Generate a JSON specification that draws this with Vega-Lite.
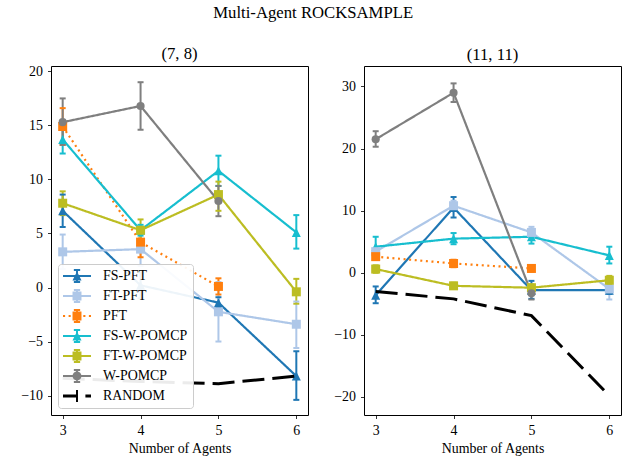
{
  "$schema": "https://vega.github.io/schema/vega-lite/v6.json",
  "padding": {"left": 20, "top": 4, "right": 5, "bottom": 5},
  "title": {"text": "Multi-Agent ROCKSAMPLE", "fontSize": 16.7, "offset": 24, "anchor": "start", "dx": 193},
  "spacing": 24,
  "datasets": {
    "left": [
      {"series": "FS-PFT", "n": 3, "v": 7.1, "lo": 5.6, "hi": 8.6},
      {"series": "FS-PFT", "n": 4, "v": 0.2, "lo": -1.0, "hi": 1.4},
      {"series": "FS-PFT", "n": 5, "v": -1.4, "lo": -1.9, "hi": -0.9},
      {"series": "FS-PFT", "n": 6, "v": -8.2, "lo": -10.4, "hi": -5.9},
      {"series": "FT-PFT", "n": 3, "v": 3.3, "lo": 1.7, "hi": 4.9},
      {"series": "FT-PFT", "n": 4, "v": 3.55, "lo": 2.0, "hi": 5.1},
      {"series": "FT-PFT", "n": 5, "v": -2.25, "lo": -5.0, "hi": 0.5},
      {"series": "FT-PFT", "n": 6, "v": -3.4, "lo": -5.6, "hi": -1.3},
      {"series": "PFT", "n": 3, "v": 14.9, "lo": 13.2, "hi": 16.6},
      {"series": "PFT", "n": 4, "v": 4.2, "lo": 2.8, "hi": 5.6},
      {"series": "PFT", "n": 5, "v": 0.1, "lo": -0.65, "hi": 0.85},
      {"series": "FS-W-POMCP", "n": 3, "v": 13.7, "lo": 12.4, "hi": 15.0},
      {"series": "FS-W-POMCP", "n": 4, "v": 5.3, "lo": 4.8, "hi": 5.8},
      {"series": "FS-W-POMCP", "n": 5, "v": 10.8, "lo": 9.4, "hi": 12.2},
      {"series": "FS-W-POMCP", "n": 6, "v": 5.1, "lo": 3.6, "hi": 6.7},
      {"series": "FT-W-POMCP", "n": 3, "v": 7.8, "lo": 6.7, "hi": 8.9},
      {"series": "FT-W-POMCP", "n": 4, "v": 5.3, "lo": 4.3, "hi": 6.3},
      {"series": "FT-W-POMCP", "n": 5, "v": 8.6, "lo": 7.1, "hi": 9.8},
      {"series": "FT-W-POMCP", "n": 6, "v": -0.4, "lo": -1.5, "hi": 0.8},
      {"series": "W-POMCP", "n": 3, "v": 15.3, "lo": 13.2, "hi": 17.5},
      {"series": "W-POMCP", "n": 4, "v": 16.8, "lo": 14.6, "hi": 19.0},
      {"series": "W-POMCP", "n": 5, "v": 8.0, "lo": 6.6, "hi": 9.4},
      {"series": "RANDOM", "n": 3, "v": -8.4},
      {"series": "RANDOM", "n": 4, "v": -8.7},
      {"series": "RANDOM", "n": 5, "v": -8.9},
      {"series": "RANDOM", "n": 6, "v": -8.2}
    ],
    "right": [
      {"series": "FS-PFT", "n": 3, "v": -3.6, "lo": -4.9, "hi": -2.2},
      {"series": "FS-PFT", "n": 4, "v": 10.5, "lo": 8.9, "hi": 12.2},
      {"series": "FS-PFT", "n": 5, "v": -2.8, "lo": -4.2, "hi": -1.3},
      {"series": "FS-PFT", "n": 6, "v": -2.8, "lo": -3.4, "hi": -2.2},
      {"series": "FT-PFT", "n": 3, "v": 3.4, "lo": 2.8, "hi": 4.0},
      {"series": "FT-PFT", "n": 4, "v": 10.8, "lo": 10.0, "hi": 11.6},
      {"series": "FT-PFT", "n": 5, "v": 6.5, "lo": 5.6, "hi": 7.4},
      {"series": "FT-PFT", "n": 6, "v": -2.6, "lo": -4.3, "hi": -1.0},
      {"series": "PFT", "n": 3, "v": 2.6, "lo": 2.1, "hi": 3.1},
      {"series": "PFT", "n": 4, "v": 1.5, "lo": 0.9, "hi": 2.1},
      {"series": "PFT", "n": 5, "v": 0.7, "lo": 0.2, "hi": 1.2},
      {"series": "FS-W-POMCP", "n": 3, "v": 4.2, "lo": 2.6, "hi": 5.8},
      {"series": "FS-W-POMCP", "n": 4, "v": 5.5, "lo": 4.6, "hi": 6.4},
      {"series": "FS-W-POMCP", "n": 5, "v": 5.8, "lo": 4.7, "hi": 6.9},
      {"series": "FS-W-POMCP", "n": 6, "v": 2.8, "lo": 1.5, "hi": 4.2},
      {"series": "FT-W-POMCP", "n": 3, "v": 0.6, "lo": 0.0, "hi": 1.2},
      {"series": "FT-W-POMCP", "n": 4, "v": -2.1, "lo": -2.6, "hi": -1.6},
      {"series": "FT-W-POMCP", "n": 5, "v": -2.4, "lo": -2.9, "hi": -1.9},
      {"series": "FT-W-POMCP", "n": 6, "v": -1.2, "lo": -1.9, "hi": -0.5},
      {"series": "W-POMCP", "n": 3, "v": 21.5, "lo": 20.3, "hi": 22.8},
      {"series": "W-POMCP", "n": 4, "v": 29.0, "lo": 27.5, "hi": 30.5},
      {"series": "W-POMCP", "n": 5, "v": -3.3, "lo": -4.3, "hi": -2.3},
      {"series": "RANDOM", "n": 3, "v": -3.0},
      {"series": "RANDOM", "n": 4, "v": -4.2},
      {"series": "RANDOM", "n": 5, "v": -6.9},
      {"series": "RANDOM", "n": 6, "v": -19.8}
    ]
  },
  "resolve": {"scale": {"x": "independent", "y": "independent", "color": "independent", "shape": "independent", "strokeDash": "independent"}},
  "hconcat": [
    {
      "width": 257, "height": 349,
      "title": {"text": "(7, 8)", "fontSize": 16.7, "offset": 2},
      "data": {"name": "left"},
      "encoding": {
        "x": {"field": "n", "type": "quantitative", "scale": {"domain": [2.85, 6.15], "nice": false, "zero": false}, "axis": {"values": [3, 4, 5, 6], "format": "d", "title": "Number of Agents"}},
        "color": {"field": "series", "type": "nominal", "scale": {"domain": ["FS-PFT", "FT-PFT", "PFT", "FS-W-POMCP", "FT-W-POMCP", "W-POMCP", "RANDOM"], "range": ["#1f77b4", "#aec7e8", "#ff7f0e", "#17becf", "#bcbd22", "#7f7f7f", "#000000"]}}
      },
      "layer": [
        {
          "transform": [{"filter": "datum.series != 'RANDOM'"}],
          "mark": {"type": "line", "strokeWidth": 2.2},
          "encoding": {
            "y": {"field": "v", "type": "quantitative", "scale": {"domain": [-11.8, 20.5], "nice": false, "zero": false}, "axis": {"values": [-10, -5, 0, 5, 10, 15, 20], "title": null}},
            "strokeDash": {"field": "series", "type": "nominal", "scale": {"domain": ["FS-PFT", "FT-PFT", "PFT", "FS-W-POMCP", "FT-W-POMCP", "W-POMCP"], "range": [[1, 0], [1, 0], [2, 3.6], [1, 0], [1, 0], [1, 0]]}, "legend": null}
          }
        },
        {
          "transform": [{"filter": "datum.lo != null"}],
          "mark": {"type": "rule", "strokeWidth": 2},
          "encoding": {
            "y": {"field": "lo", "type": "quantitative", "scale": {"domain": [-11.8, 20.5], "nice": false, "zero": false}, "axis": {"values": [-10, -5, 0, 5, 10, 15, 20], "title": null}},
            "y2": {"field": "hi"}
          }
        },
        {
          "transform": [{"filter": "datum.lo != null"}],
          "mark": {"type": "tick", "orient": "horizontal", "size": 6, "thickness": 2, "opacity": 1},
          "encoding": {
            "y": {"field": "lo", "type": "quantitative", "scale": {"domain": [-11.8, 20.5], "nice": false, "zero": false}, "axis": {"values": [-10, -5, 0, 5, 10, 15, 20], "title": null}}
          }
        },
        {
          "transform": [{"filter": "datum.hi != null"}],
          "mark": {"type": "tick", "orient": "horizontal", "size": 6, "thickness": 2, "opacity": 1},
          "encoding": {
            "y": {"field": "hi", "type": "quantitative", "scale": {"domain": [-11.8, 20.5], "nice": false, "zero": false}, "axis": {"values": [-10, -5, 0, 5, 10, 15, 20], "title": null}}
          }
        },
        {
          "transform": [{"filter": "datum.series == 'FS-PFT' || datum.series == 'FS-W-POMCP'"}],
          "mark": {"type": "point", "shape": "M0,-1L1,1L-1,1Z", "filled": true, "size": 81, "opacity": 1},
          "encoding": {
            "y": {"field": "v", "type": "quantitative", "scale": {"domain": [-11.8, 20.5], "nice": false, "zero": false}, "axis": {"values": [-10, -5, 0, 5, 10, 15, 20], "title": null}}
          }
        },
        {
          "transform": [{"filter": "datum.series == 'FT-PFT' || datum.series == 'PFT' || datum.series == 'FT-W-POMCP'"}],
          "mark": {"type": "point", "shape": "square", "filled": true, "size": 81, "opacity": 1},
          "encoding": {
            "y": {"field": "v", "type": "quantitative", "scale": {"domain": [-11.8, 20.5], "nice": false, "zero": false}, "axis": {"values": [-10, -5, 0, 5, 10, 15, 20], "title": null}}
          }
        },
        {
          "transform": [{"filter": "datum.series == 'W-POMCP'"}],
          "mark": {"type": "point", "shape": "circle", "filled": true, "size": 66, "opacity": 1},
          "encoding": {
            "y": {"field": "v", "type": "quantitative", "scale": {"domain": [-11.8, 20.5], "nice": false, "zero": false}, "axis": {"values": [-10, -5, 0, 5, 10, 15, 20], "title": null}}
          }
        },
        {
          "transform": [{"filter": "datum.series == 'RANDOM'"}],
          "mark": {"type": "line", "strokeWidth": 3, "strokeDash": [22, 8]},
          "encoding": {
            "y": {"field": "v", "type": "quantitative", "scale": {"domain": [-11.8, 20.5], "nice": false, "zero": false}, "axis": {"values": [-10, -5, 0, 5, 10, 15, 20], "title": null}}
          }
        },
        {
          "transform": [{"filter": "false"}],
          "mark": {"type": "point", "filled": true, "opacity": 1, "strokeWidth": 0},
          "encoding": {
            "y": {"field": "v", "type": "quantitative", "scale": {"domain": [-11.8, 20.5], "nice": false, "zero": false}, "axis": {"values": [-10, -5, 0, 5, 10, 15, 20], "title": null}},
            "color": {"field": "series", "type": "nominal", "scale": {"domain": ["FS-PFT", "FT-PFT", "PFT", "FS-W-POMCP", "FT-W-POMCP", "W-POMCP", "RANDOM"], "range": ["#1f77b4", "#aec7e8", "#ff7f0e", "#17becf", "#bcbd22", "#7f7f7f", "#000000"]},
              "legend": {"title": null, "orient": "bottom-left", "offset": 7, "padding": 5, "fillColor": "rgba(255,255,255,0.92)", "strokeColor": "#cccccc", "cornerRadius": 3, "labelFont": "Liberation Serif", "labelFontSize": 13.9, "labelColor": "black", "symbolSize": 196, "symbolStrokeWidth": 0, "symbolOffset": 7, "labelOffset": 19, "rowPadding": 6, "symbolOpacity": 1}},
            "shape": {"field": "series", "type": "nominal", "scale": {"domain": ["FS-PFT", "FT-PFT", "PFT", "FS-W-POMCP", "FT-W-POMCP", "W-POMCP", "RANDOM"], "range": [
              "M-2,-0.16H2V0.16H-2Z M-0.14,-0.85H0.14V0.85H-0.14Z M-0.45,-0.99H0.45V-0.71H-0.45Z M-0.45,0.71H0.45V0.99H-0.45Z M0,-0.65L0.65,0.65L-0.65,0.65Z",
              "M-2,-0.16H2V0.16H-2Z M-0.14,-0.85H0.14V0.85H-0.14Z M-0.45,-0.99H0.45V-0.71H-0.45Z M-0.45,0.71H0.45V0.99H-0.45Z M-0.64,-0.64H0.64V0.64H-0.64Z",
              "M-2,-0.16H-1.7V0.16H-2Z M-1.2,-0.16H-0.9V0.16H-1.2Z M0.9,-0.16H1.2V0.16H0.9Z M1.7,-0.16H2V0.16H1.7Z M-0.14,-0.85H0.14V0.85H-0.14Z M-0.45,-0.99H0.45V-0.71H-0.45Z M-0.45,0.71H0.45V0.99H-0.45Z M-0.64,-0.64H0.64V0.64H-0.64Z",
              "M-2,-0.16H2V0.16H-2Z M-0.14,-0.85H0.14V0.85H-0.14Z M-0.45,-0.99H0.45V-0.71H-0.45Z M-0.45,0.71H0.45V0.99H-0.45Z M0,-0.65L0.65,0.65L-0.65,0.65Z",
              "M-2,-0.16H2V0.16H-2Z M-0.14,-0.85H0.14V0.85H-0.14Z M-0.45,-0.99H0.45V-0.71H-0.45Z M-0.45,0.71H0.45V0.99H-0.45Z M-0.64,-0.64H0.64V0.64H-0.64Z",
              "M-2,-0.16H2V0.16H-2Z M-0.14,-0.85H0.14V0.85H-0.14Z M-0.45,-0.99H0.45V-0.71H-0.45Z M-0.45,0.71H0.45V0.99H-0.45Z M-0.64,0A0.64,0.64,0,1,1,0.64,0A0.64,0.64,0,1,1,-0.64,0Z",
              "M-2,-0.2H0V0.2H-2Z M-0.14,-0.85H0.14V0.85H-0.14Z M1.2,-0.2H2V0.2H1.2Z"
            ]},
              "legend": {"title": null, "orient": "bottom-left", "offset": 7, "padding": 5, "fillColor": "rgba(255,255,255,0.92)", "strokeColor": "#cccccc", "cornerRadius": 3, "labelFont": "Liberation Serif", "labelFontSize": 13.9, "labelColor": "black", "symbolSize": 196, "symbolStrokeWidth": 0, "symbolOffset": 7, "labelOffset": 19, "rowPadding": 6, "symbolOpacity": 1}}
          }
        }
      ]
    },
    {
      "width": 257, "height": 349,
      "title": {"text": "(11, 11)", "fontSize": 16.7, "offset": 2},
      "data": {"name": "right"},
      "encoding": {
        "x": {"field": "n", "type": "quantitative", "scale": {"domain": [2.85, 6.15], "nice": false, "zero": false}, "axis": {"values": [3, 4, 5, 6], "format": "d", "title": "Number of Agents"}},
        "color": {"field": "series", "type": "nominal", "scale": {"domain": ["FS-PFT", "FT-PFT", "PFT", "FS-W-POMCP", "FT-W-POMCP", "W-POMCP", "RANDOM"], "range": ["#1f77b4", "#aec7e8", "#ff7f0e", "#17becf", "#bcbd22", "#7f7f7f", "#000000"]}, "legend": null}
      },
      "layer": [
        {
          "transform": [{"filter": "datum.series != 'RANDOM'"}],
          "mark": {"type": "line", "strokeWidth": 2.2},
          "encoding": {
            "y": {"field": "v", "type": "quantitative", "scale": {"domain": [-22.9, 33.3], "nice": false, "zero": false}, "axis": {"values": [-20, -10, 0, 10, 20, 30], "title": null}},
            "strokeDash": {"field": "series", "type": "nominal", "scale": {"domain": ["FS-PFT", "FT-PFT", "PFT", "FS-W-POMCP", "FT-W-POMCP", "W-POMCP"], "range": [[1, 0], [1, 0], [2, 3.6], [1, 0], [1, 0], [1, 0]]}, "legend": null}
          }
        },
        {
          "transform": [{"filter": "datum.lo != null"}],
          "mark": {"type": "rule", "strokeWidth": 2},
          "encoding": {
            "y": {"field": "lo", "type": "quantitative", "scale": {"domain": [-22.9, 33.3], "nice": false, "zero": false}, "axis": {"values": [-20, -10, 0, 10, 20, 30], "title": null}},
            "y2": {"field": "hi"}
          }
        },
        {
          "transform": [{"filter": "datum.lo != null"}],
          "mark": {"type": "tick", "orient": "horizontal", "size": 6, "thickness": 2, "opacity": 1},
          "encoding": {
            "y": {"field": "lo", "type": "quantitative", "scale": {"domain": [-22.9, 33.3], "nice": false, "zero": false}, "axis": {"values": [-20, -10, 0, 10, 20, 30], "title": null}}
          }
        },
        {
          "transform": [{"filter": "datum.hi != null"}],
          "mark": {"type": "tick", "orient": "horizontal", "size": 6, "thickness": 2, "opacity": 1},
          "encoding": {
            "y": {"field": "hi", "type": "quantitative", "scale": {"domain": [-22.9, 33.3], "nice": false, "zero": false}, "axis": {"values": [-20, -10, 0, 10, 20, 30], "title": null}}
          }
        },
        {
          "transform": [{"filter": "datum.series == 'FS-PFT' || datum.series == 'FS-W-POMCP'"}],
          "mark": {"type": "point", "shape": "M0,-1L1,1L-1,1Z", "filled": true, "size": 81, "opacity": 1},
          "encoding": {
            "y": {"field": "v", "type": "quantitative", "scale": {"domain": [-22.9, 33.3], "nice": false, "zero": false}, "axis": {"values": [-20, -10, 0, 10, 20, 30], "title": null}}
          }
        },
        {
          "transform": [{"filter": "datum.series == 'FT-PFT' || datum.series == 'PFT' || datum.series == 'FT-W-POMCP'"}],
          "mark": {"type": "point", "shape": "square", "filled": true, "size": 81, "opacity": 1},
          "encoding": {
            "y": {"field": "v", "type": "quantitative", "scale": {"domain": [-22.9, 33.3], "nice": false, "zero": false}, "axis": {"values": [-20, -10, 0, 10, 20, 30], "title": null}}
          }
        },
        {
          "transform": [{"filter": "datum.series == 'W-POMCP'"}],
          "mark": {"type": "point", "shape": "circle", "filled": true, "size": 66, "opacity": 1},
          "encoding": {
            "y": {"field": "v", "type": "quantitative", "scale": {"domain": [-22.9, 33.3], "nice": false, "zero": false}, "axis": {"values": [-20, -10, 0, 10, 20, 30], "title": null}}
          }
        },
        {
          "transform": [{"filter": "datum.series == 'RANDOM'"}],
          "mark": {"type": "line", "strokeWidth": 3, "strokeDash": [22, 8]},
          "encoding": {
            "y": {"field": "v", "type": "quantitative", "scale": {"domain": [-22.9, 33.3], "nice": false, "zero": false}, "axis": {"values": [-20, -10, 0, 10, 20, 30], "title": null}}
          }
        }
      ]
    }
  ],
  "config": {
    "font": "Liberation Serif",
    "background": "white",
    "view": {"stroke": "black", "strokeWidth": 1},
    "axis": {"domain": false, "grid": false, "labelFont": "Liberation Serif", "labelFontSize": 13.9, "labelColor": "black", "tickColor": "black", "tickSize": 3.5, "tickWidth": 0.8, "labelPadding": 5, "titleFont": "Liberation Serif", "titleFontSize": 13.9, "titleFontWeight": "normal", "titleColor": "black", "titlePadding": 4},
    "title": {"font": "Liberation Serif", "fontSize": 16.7, "fontWeight": "normal", "color": "black"}
  }
}
